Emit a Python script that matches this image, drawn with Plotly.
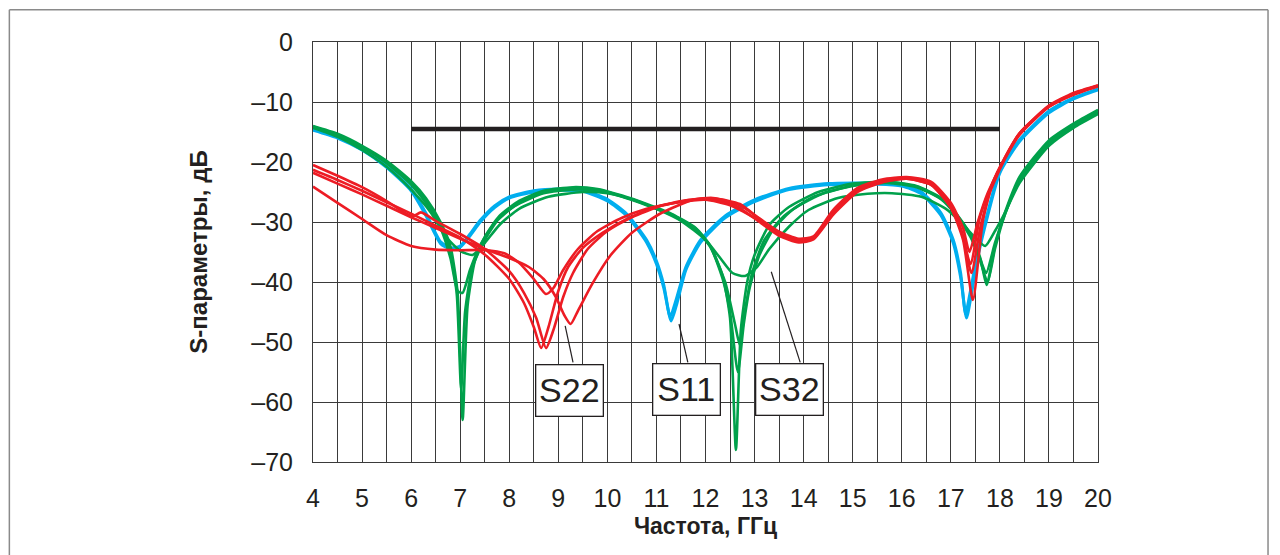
import plotly.graph_objects as go

# ---------------- data ----------------
x_ticks = list(range(4, 21))
y_ticks = [0, -10, -20, -30, -40, -50, -60, -70]
y_tick_text = ["0", "–10", "–20", "–30", "–40", "–50", "–60", "–70"]

spec_x = [6, 18]
spec_y = [-14.5, -14.5]

# S11 (blue)
s11a_x = [4, 4.5, 5, 5.5, 6, 6.3, 6.6, 6.8, 7.0, 7.2, 7.4, 7.7, 8.0, 8.5, 9.0, 9.5, 10.0, 10.4, 10.8, 11.0, 11.15, 11.28, 11.4, 11.6, 11.9, 12.4, 13.0, 13.7, 14.5, 15.5, 16.0, 16.4, 16.8, 17.05, 17.2, 17.3, 17.4, 17.55, 17.75, 18.0, 18.4, 19.0, 19.5, 20.0]
s11a_y = [-14.5, -15.8, -17.8, -20.6, -24.5, -28.5, -33.3, -34.3, -34.0, -32.0, -29.8, -27.3, -25.8, -24.8, -24.5, -24.7, -26.2, -28.7, -33.0, -36.5, -40.5, -45.8, -43.0, -37.5, -33.0, -29.0, -26.3, -24.4, -23.6, -23.5, -23.8, -25.0, -28.5, -33.0, -38.5, -45.3, -41.5, -35.0, -28.5, -21.3, -16.3, -11.5, -9.3, -7.8]
s11b_x = [4, 4.5, 5, 5.5, 6, 6.3, 6.6, 6.8, 7.0, 7.2, 7.4, 7.7, 8.0, 8.5, 9.0, 9.5, 10.0, 10.4, 10.8, 11.0, 11.15, 11.3, 11.42, 11.6, 11.9, 12.4, 13.0, 13.7, 14.5, 15.5, 16.0, 16.4, 16.8, 17.05, 17.2, 17.32, 17.42, 17.56, 17.75, 18.0, 18.4, 19.0, 19.5, 20.0]
s11b_y = [-14.7, -16.0, -18.0, -20.9, -24.8, -28.9, -33.6, -34.5, -34.2, -32.3, -30.1, -27.6, -26.0, -25.0, -24.7, -24.9, -26.5, -29.0, -33.4, -37.0, -41.0, -46.5, -43.5, -38.0, -33.4, -29.3, -26.6, -24.6, -23.8, -23.7, -24.0, -25.3, -28.9, -33.5, -39.2, -46.0, -42.0, -35.5, -29.0, -21.8, -16.6, -11.8, -9.5, -8.0]

# S32 (green)
s32a_x = [4, 4.5, 5, 5.5, 6, 6.3, 6.6, 6.8, 6.95, 7.05, 7.15, 7.3, 7.5, 7.8, 8.2, 8.7, 9.3, 9.8, 10.3, 10.8, 11.3, 11.8, 12.1, 12.35, 12.5, 12.62, 12.72, 12.85, 13.0, 13.3, 13.7, 14.3, 15.0, 15.7, 16.3, 16.8, 17.1, 17.4, 17.6, 17.73, 17.9, 18.1, 18.4, 19.0, 19.5, 20.0]
s32a_y = [-14.0, -15.3, -17.3, -19.8, -23.2, -26.0, -30.0, -34.0, -42.0, -63.0, -44.0, -36.5, -32.5, -29.0, -26.5, -24.8, -24.2, -24.5, -25.6, -27.0, -28.6, -31.0, -34.0, -39.0, -46.0, -68.0, -48.0, -40.0, -35.5, -30.5, -27.5, -25.0, -23.6, -23.3, -24.0, -26.0, -28.5, -32.0, -36.0, -40.5, -34.0, -28.5, -22.5, -16.4, -13.6, -11.3]
s32b_x = [4, 4.5, 5, 5.5, 6, 6.3, 6.6, 6.8, 6.95, 7.05, 7.2, 7.4, 7.7, 8.1, 8.7, 9.3, 9.8, 10.3, 10.8, 11.3, 11.8, 12.1, 12.4, 12.6, 12.7, 12.8, 12.95, 13.2, 13.6, 14.2, 15.0, 15.7, 16.3, 16.8, 17.1, 17.4, 17.6, 17.72, 17.9, 18.1, 18.4, 19.0, 19.5, 20.0]
s32b_y = [-14.2, -15.6, -17.6, -20.2, -23.8, -26.8, -31.0, -36.0, -41.5, -41.8, -38.0, -34.0, -30.2, -27.4, -25.2, -24.6, -24.8, -25.8, -27.2, -28.8, -31.2, -34.2, -40.0, -47.0, -50.5, -45.0, -38.5, -33.0, -29.0, -25.8, -24.0, -23.5, -24.2, -26.2, -28.8, -32.5, -36.2, -38.5, -33.5, -28.8, -23.0, -16.8, -13.9, -11.6]
s32c_x = [4, 4.5, 5, 5.5, 6, 6.4, 6.7, 7.0, 7.25, 7.5, 7.8, 8.2, 8.8, 9.5, 10.0, 10.5, 11.0, 11.5, 12.0, 12.3, 12.55, 12.8, 13.05, 13.3, 13.7, 14.1, 14.7, 15.3, 15.8, 16.4, 16.9, 17.2, 17.45, 17.7, 17.9, 18.1, 18.4, 19.0, 19.5, 20.0]
s32c_y = [-14.3, -15.8, -18.0, -20.8, -24.6, -28.4, -32.4, -34.8, -35.5, -33.5, -30.5, -27.8, -25.8, -25.0, -25.2, -26.2, -27.8, -29.8, -33.0, -36.0, -38.5, -39.0, -37.5, -34.5, -30.8, -28.0, -26.0, -25.3, -25.2, -25.8, -27.8, -30.0, -32.2, -34.0, -31.5, -28.5, -23.5, -17.3, -14.3, -12.0]
s32d_x = [4, 4.5, 5, 5.5, 6, 6.3, 6.6, 6.8, 6.93, 7.02, 7.1, 7.25, 7.5, 7.8, 8.2, 8.7, 9.3, 9.8, 10.3, 10.8, 11.3, 11.8, 12.1, 12.35, 12.5, 12.66, 12.78, 12.9, 13.1, 13.4, 13.8, 14.4, 15.1, 15.8, 16.3, 16.8, 17.1, 17.4, 17.6, 17.75, 17.9, 18.1, 18.4, 19.0, 19.5, 20.0]
s32d_y = [-14.1, -15.5, -17.5, -20.0, -23.5, -26.4, -30.5, -35.0, -42.0, -58.0, -45.0, -37.5, -33.0, -29.3, -26.8, -25.0, -24.3, -24.6, -25.7, -27.1, -28.7, -31.1, -34.1, -39.5, -45.0, -55.0, -47.0, -41.0, -35.5, -31.0, -27.8, -25.2, -23.8, -23.4, -24.1, -26.1, -28.6, -32.2, -36.5, -40.0, -34.5, -28.8, -23.0, -16.9, -14.0, -11.8]

# S22 (red)
s22a_x = [4, 4.5, 5, 5.5, 6, 6.5, 7, 7.5, 7.9, 8.2, 8.5, 8.75, 8.9, 9.1, 9.4, 9.8, 10.3, 10.8, 11.4, 12.0, 12.5, 13.0, 13.5, 13.9, 14.2, 14.6, 15.1, 15.6, 16.1, 16.6, 17.0, 17.25, 17.42, 17.6, 17.8, 18.1, 18.4, 19.0, 19.5, 20.0]
s22a_y = [-24.1, -26.8, -29.5, -32.2, -34.0, -34.6, -34.7, -34.7, -35.2, -36.8, -39.5, -42.0, -41.0, -38.0, -34.5, -31.5, -29.3, -27.8, -26.8, -26.3, -27.2, -29.3, -31.8, -33.0, -32.6, -28.5, -24.8, -23.3, -22.8, -23.8, -27.5, -32.5, -38.5, -31.0, -25.0, -19.5, -15.5, -10.8, -8.8, -7.4]
s22b_x = [4, 4.5, 5, 5.5, 6, 6.5, 7, 7.5, 8.0, 8.3, 8.5, 8.65, 8.8, 9.0, 9.2, 9.5, 9.9, 10.4, 11.0, 11.6, 12.1, 12.6, 13.1, 13.5, 13.9, 14.2, 14.6, 15.1, 15.6, 16.1, 16.6, 17.0, 17.25, 17.45, 17.65, 17.85, 18.1, 18.4, 19.0, 19.5, 20.0]
s22b_y = [-21.3, -23.0, -24.8, -26.7, -28.6, -30.6, -32.6, -35.4, -39.5, -43.5, -47.5, -51.0, -47.5, -41.5, -37.5, -34.3, -31.8, -29.5, -27.5, -26.4, -26.2, -27.2, -30.0, -32.3, -33.4, -32.9, -28.8, -25.0, -23.4, -22.8, -23.8, -27.6, -33.0, -43.0, -30.0, -23.5, -19.3, -15.3, -10.8, -8.7, -7.3]
s22c_x = [4, 4.5, 5, 5.5, 5.9, 6.05, 6.2, 6.5, 7, 7.5, 8.0, 8.3, 8.55, 8.75, 8.9, 9.1, 9.3, 9.6, 10.0, 10.5, 11.1, 11.7, 12.2, 12.7, 13.1, 13.5, 13.9, 14.2, 14.6, 15.1, 15.6, 16.1, 16.6, 17.0, 17.22, 17.4, 17.6, 17.8, 18.1, 18.4, 19.0, 19.5, 20.0]
s22c_y = [-20.5, -22.3, -24.2, -26.5, -28.6, -29.0, -28.4, -29.8, -32.0, -34.5, -38.2, -41.8, -46.0, -51.0, -48.0, -42.5, -38.5, -34.5, -31.5, -29.2, -27.3, -26.3, -26.1, -27.0, -29.5, -32.0, -33.2, -32.7, -28.4, -24.6, -23.1, -22.6, -23.6, -27.2, -31.5, -37.0, -29.0, -24.5, -19.3, -15.2, -10.6, -8.5, -7.2]
s22d_x = [4, 4.5, 5, 5.5, 6, 6.5, 7, 7.5, 8.0, 8.4, 8.7, 8.95, 9.12, 9.25, 9.4, 9.7, 10.05, 10.5, 11.1, 11.75, 12.15, 12.7, 13.1, 13.5, 13.9, 14.2, 14.6, 15.1, 15.6, 16.1, 16.6, 17.0, 17.25, 17.38, 17.55, 17.75, 18.1, 18.4, 19.0, 19.5, 20.0]
s22d_y = [-21.8, -23.6, -25.4, -27.3, -29.2, -31.0, -32.8, -34.5, -36.0, -37.5, -39.5, -42.5, -45.5, -47.0, -44.8, -40.2, -35.7, -31.8, -28.5, -26.3, -26.0, -27.2, -29.4, -31.6, -32.8, -32.4, -28.0, -24.3, -22.9, -22.5, -23.3, -26.8, -31.0, -35.0, -30.0, -25.2, -19.5, -15.2, -10.7, -8.6, -7.3]

# labels with leader lines
label_text = ["S22", "S11", "S32"]
label_x = [9.22, 11.62, 13.72]
label_y = [-58.0, -57.9, -57.9]
leader_x0 = [9.14, 11.46, 13.34]
leader_y0 = [-47.3, -47.0, -38.3]
leader_x1 = [9.30, 11.64, 13.93]
leader_y1 = [-53.4, -53.4, -53.4]

# ---------------- figure ----------------
BLUE = "#00aeef"
GREEN = "#00a14b"
RED = "#ed1c24"
DARK = "#231f20"
GRID = "#3a3a3a"
FRAME = "#8a8a8a"

FONT = "Liberation Sans, Arial, sans-serif"

fig = go.Figure()

fig.add_trace(go.Scatter(x=spec_x, y=spec_y, mode="lines",
                         line=dict(color=DARK, width=4.5), hoverinfo="skip"))

def add_curve(xs, ys, color, width):
    fig.add_trace(go.Scatter(x=xs, y=ys, mode="lines",
                             line=dict(color=color, width=width, shape="spline", smoothing=0.6)))

add_curve(s11a_x, s11a_y, BLUE, 3)
add_curve(s11b_x, s11b_y, BLUE, 3)
for xs, ys in [(s32a_x, s32a_y), (s32b_x, s32b_y), (s32c_x, s32c_y), (s32d_x, s32d_y)]:
    add_curve(xs, ys, GREEN, 2.6)
for xs, ys in [(s22a_x, s22a_y), (s22b_x, s22b_y), (s22c_x, s22c_y), (s22d_x, s22d_y)]:
    add_curve(xs, ys, RED, 2.6)

for i in range(len(label_text)):
    fig.add_shape(type="line", x0=leader_x0[i], y0=leader_y0[i], x1=leader_x1[i], y1=leader_y1[i],
                  line=dict(color=DARK, width=1.2), layer="above")
    fig.add_annotation(x=label_x[i], y=label_y[i], text=label_text[i], showarrow=False,
                       font=dict(family=FONT, size=34, color=DARK),
                       bgcolor="white", bordercolor=DARK, borderwidth=1.3,
                       width=64, height=48, borderpad=1)

# outer frame (top, left, right edges)
fx0, fx1, fy0, fy1 = -0.3868, 1.2166, -0.3, 1.0769
fig.add_shape(type="line", xref="paper", yref="paper", x0=fx0, x1=fx1, y0=fy1, y1=fy1,
              line=dict(color=FRAME, width=1.5))
fig.add_shape(type="line", xref="paper", yref="paper", x0=fx0, x1=fx0, y0=fy0, y1=fy1,
              line=dict(color=FRAME, width=1.5))
fig.add_shape(type="line", xref="paper", yref="paper", x0=fx1, x1=fx1, y0=fy0, y1=fy1,
              line=dict(color=FRAME, width=1.5))

fig.update_layout(
    width=1280, height=555,
    margin=dict(l=305, r=190, t=34, b=101),
    paper_bgcolor="white", plot_bgcolor="white",
    showlegend=False,
    xaxis=dict(range=[4, 20], tickvals=x_ticks, ticktext=[str(v) for v in x_ticks],
               showgrid=True, gridcolor=GRID, gridwidth=1,
               minor=dict(dtick=0.5, showgrid=True, gridcolor=GRID, gridwidth=1),
               showline=True, linecolor=GRID, linewidth=1, mirror=True,
               ticks="", ticklabelstandoff=14, zeroline=False,
               tickfont=dict(family=FONT, size=25, color=DARK),
               title=dict(text="<b>Частота, ГГц</b>", font=dict(family=FONT, size=23, color=DARK), standoff=6)),
    yaxis=dict(range=[-70, 0], tickvals=y_ticks, ticktext=y_tick_text,
               showgrid=True, gridcolor=GRID, gridwidth=1,
               showline=True, linecolor=GRID, linewidth=1, mirror=True,
               ticks="", ticklabelstandoff=14, zeroline=False,
               tickfont=dict(family=FONT, size=25, color=DARK),
               title=dict(text="<b>S-параметры, дБ</b>", font=dict(family=FONT, size=24, color=DARK), standoff=36)),
)

fig.write_html("out.html")
